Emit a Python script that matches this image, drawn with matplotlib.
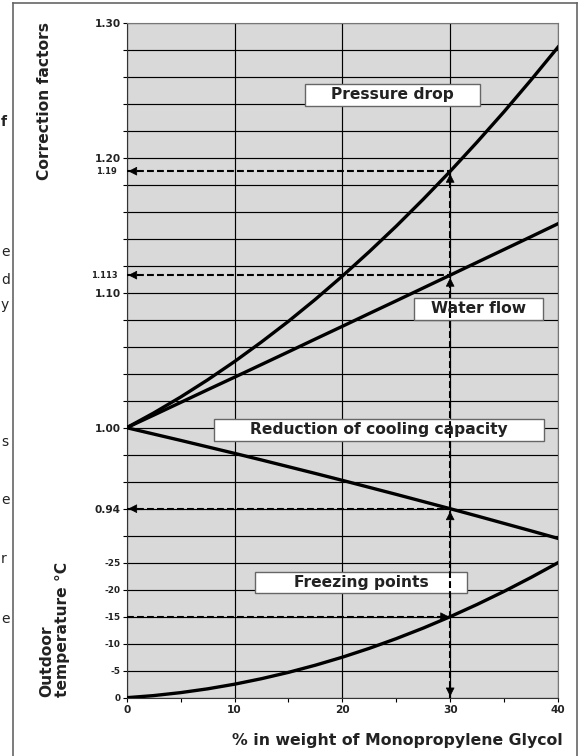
# Glycol correction factors chart (pressure drop, water flow, cooling capacity, freezing point)

import matplotlib.pyplot as plt
from matplotlib.lines import Line2D
from matplotlib.patches import Rectangle

plt.rcParams['font.family'] = ['DejaVu Sans']

# % in weight of monopropylene glycol
glycol = [0, 2.5, 5, 7.5, 10, 12.5, 15, 17.5, 20, 22.5, 25, 27.5, 30, 32.5, 35, 37.5, 40]
# correction factors
pressure_drop = [1.0000, 1.0109, 1.0227, 1.0354, 1.0490, 1.0635, 1.0788, 1.0951, 1.1123,
                 1.1304, 1.1493, 1.1692, 1.1899, 1.2116, 1.2341, 1.2576, 1.2819]
water_flow = [1.0000, 1.0093, 1.0187, 1.0281, 1.0374, 1.0468, 1.0562, 1.0657, 1.0751,
              1.0846, 1.0940, 1.1035, 1.1130, 1.1225, 1.1320, 1.1415, 1.1511]
cooling_capacity = [1.0000, 0.9953, 0.9906, 0.9858, 0.9810, 0.9761, 0.9711, 0.9661, 0.9610,
                    0.9558, 0.9506, 0.9453, 0.9400, 0.9346, 0.9291, 0.9236, 0.9180]
# freezing point in deg C
freezing_point = [0, -0.39, -0.94, -1.64, -2.50, -3.52, -4.69, -6.02, -7.50,
                  -9.14, -10.94, -12.89, -15.00, -17.27, -19.69, -22.27, -25.00]

# worked example at 30 %
example_x = 30
example_pressure = 1.19
example_flow = 1.113
example_capacity = 0.94
example_freeze = -15

factor_labels = {0.94: "0.94", 1.00: "1.00", 1.10: "1.10", 1.20: "1.20", 1.30: "1.30"}
x_ticks = [0, 10, 20, 30, 40]

# cut-off letters of the neighbouring text column
edge_letters = ["f", "e", "d", "y", "s", "e", "r", "e"]


def temp_to_y(t):
    # lower band of the axis: 0 .. -25 deg C mapped onto 0.80 .. 0.90
    return 0.80 - t * 0.004


W, H = 585, 756
fig = plt.figure(figsize=(W / 100, H / 100), dpi=100)
ax = fig.add_axes([126.7 / W, 1 - 697.7 / H, (558 - 126.7) / W, (697.7 - 22.7) / H])
ax.set_facecolor('#d9d9d9')
ax.set_xlim(0, 40)
ax.set_ylim(0.80, 1.30)

# grid every 0.02 (= 5 deg C in the lower band)
yt = [round(0.80 + 0.02 * i, 2) for i in range(26)]
ylabs = []
for v in yt:
    if v <= 0.90 + 1e-9:
        ylabs.append(str(int(round(-(v - 0.80) / 0.004))))
    else:
        ylabs.append(factor_labels.get(v, ""))
ax.set_yticks(yt)
ax.set_yticklabels(ylabs)
for v, lab in zip(yt, ax.get_yticklabels()):
    lab.set_fontweight('bold')
    lab.set_color('#222222')
    lab.set_fontsize(6.4 if v <= 0.90 + 1e-9 else 7.6)

ax.set_xticks(x_ticks)
ax.set_xticklabels([str(v) for v in x_ticks], fontsize=7.6, fontweight='bold', color='#222222')
ax.set_xticks([5, 15, 25, 35], minor=True)
ax.tick_params(axis='y', length=3, width=0.8, pad=1.5)
ax.tick_params(axis='x', which='both', length=3, width=0.8, pad=2)
ax.grid(True, which='major', color='black', lw=0.85)

for s in ['left', 'bottom']:
    ax.spines[s].set_color('#333333')
for s in ['top', 'right']:
    ax.spines[s].set_color('#777777')

# curves
curve = dict(color='black', lw=2.4, zorder=4, solid_joinstyle='round')
ax.plot(glycol, pressure_drop, **curve)
ax.plot(glycol, water_flow, **curve)
ax.plot(glycol, cooling_capacity, **curve)
ax.plot(glycol, [temp_to_y(t) for t in freezing_point], **curve)

# label boxes (x0, x1, y0, y1 in data units)
boxes = [
    ("Pressure drop", 16.5, 32.8, 1.2383, 1.2546),
    ("Water flow", 26.6, 38.6, 1.0798, 1.0961),
    ("Reduction of cooling capacity", 8.1, 38.7, 0.9902, 1.0064),
    ("Freezing points", 11.9, 31.6, 0.8776, 0.8931),
]
for txt, x0, x1, y0, y1 in boxes:
    ax.add_patch(Rectangle((x0, y0), x1 - x0, y1 - y0, facecolor='white',
                           edgecolor='#666666', lw=1, zorder=3))
    ax.text((x0 + x1) / 2, (y0 + y1) / 2, txt, ha='center', va='center',
            fontsize=11.2, fontweight='bold', color='#222222', zorder=6)

# dashed reading lines
dash = dict(color='black', lw=1.5, dashes=(3.3, 1.5), zorder=5)
ax.plot([example_x, example_x], [0.80, example_pressure], **dash)
for yv in [example_pressure, example_flow, example_capacity, temp_to_y(example_freeze)]:
    ax.plot([0, example_x], [yv, yv], **dash)


def head(tip, tail):
    ax.annotate("", xy=tip, xytext=tail, zorder=6,
                arrowprops=dict(arrowstyle='-|>,head_length=0.55,head_width=0.28',
                                color='black', lw=0.5, mutation_scale=10,
                                shrinkA=0, shrinkB=0))


for yv in [example_pressure, example_flow, example_capacity]:
    head((0.15, yv), (1.2, yv))
    head((example_x, yv - 0.002), (example_x, yv - 0.012))
head((example_x - 0.1, temp_to_y(example_freeze)), (example_x - 1.2, temp_to_y(example_freeze)))
head((example_x, 0.801), (example_x, 0.811))

# extra small labels for the read values
ax.text(-0.022, example_pressure, "1.19", transform=ax.get_yaxis_transform(), ha='right',
        va='center', fontsize=6, fontweight='bold', color='#222222')
ax.text(-0.022, example_flow, "1.113", transform=ax.get_yaxis_transform(), ha='right',
        va='center', fontsize=6, fontweight='bold', color='#222222')

# axis titles
fig.text(563 / W, 1 - 740 / H, "% in weight of Monopropylene Glycol", ha='right', va='center',
         fontsize=11.3, fontweight='bold', color='#222222')
fig.text(45 / W, 1 - 101 / H, "Correction factors", rotation=90, ha='center', va='center',
         fontsize=11.2, fontweight='bold', color='#222222')
fig.text(54.5 / W, 1 - 697 / H, "Outdoor\ntemperature °C", rotation=90, ha='center', va='bottom',
         multialignment='left', linespacing=1.05, fontsize=11.2, fontweight='bold', color='#222222')

# outer frame, open at the bottom
fc = '#666666'
fig.add_artist(Line2D([13 / W, 13 / W], [0, 1 - 3 / H], color=fc, lw=1.2))
fig.add_artist(Line2D([577 / W, 577 / W], [0, 1 - 3 / H], color=fc, lw=1.2))
fig.add_artist(Line2D([13 / W, 577 / W], [1 - 3 / H, 1 - 3 / H], color=fc, lw=1.2))

# letters at the left edge (from the next text column)
edge_pos = [122, 252, 280, 305, 442, 500, 559, 619]
for ch, py in zip(edge_letters, edge_pos):
    fig.text(1 / W, 1 - py / H, ch, ha='left', va='center', fontsize=10,
             fontweight='bold' if ch == "f" else 'normal', color='#222222')

fig.savefig("out.png", dpi=100)
